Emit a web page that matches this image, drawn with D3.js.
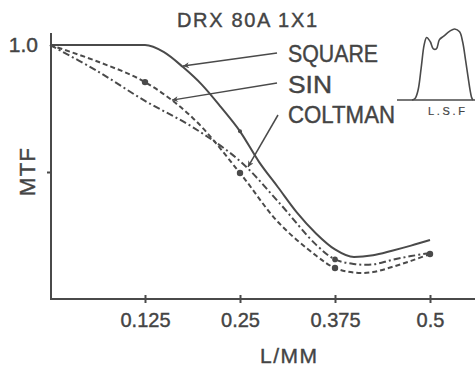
<!DOCTYPE html>
<html><head><meta charset="utf-8">
<script src="https://cdn.jsdelivr.net/npm/d3@7"></script>
<style>
html,body{margin:0;padding:0;background:#fff;}
svg{display:block;}
text{font-family:"Liberation Sans",Arial,sans-serif;fill:#444;stroke:#444;stroke-width:0.4px;}
</style></head><body>
<script>
// ---- data ----
const titleText = "DRX 80A 1X1";
const yLabel = "MTF";
const xLabel = "L/MM";
const xTicks = [0.125, 0.25, 0.375, 0.5];
const xTickLabels = ["0.125", "0.25", "0.375", "0.5"];
const yTicks = [0.5, 1.0];
const yTickLabels = ["", "1.0"];

const freqSquare = [0, 0.125, 0.15, 0.175, 0.2, 0.225, 0.25, 0.275, 0.3, 0.325, 0.35, 0.375, 0.4, 0.425, 0.45, 0.475, 0.5];
const mtfSquare  = [1.0, 1.0, 0.972, 0.913, 0.843, 0.755, 0.66, 0.54, 0.44, 0.34, 0.258, 0.195, 0.165, 0.172, 0.19, 0.21, 0.232];

const freqSin = [0, 0.0625, 0.125, 0.1875, 0.25, 0.3, 0.35, 0.375, 0.4, 0.425, 0.45, 0.475, 0.5];
const mtfSin  = [1.0, 0.935, 0.854, 0.714, 0.496, 0.303, 0.171, 0.122, 0.104, 0.106, 0.126, 0.15, 0.177];

const freqColtman = [0, 0.0625, 0.125, 0.1875, 0.25, 0.3, 0.35, 0.375, 0.4, 0.425, 0.45, 0.475, 0.5];
const mtfColtman  = [1.0, 0.897, 0.78, 0.677, 0.543, 0.384, 0.214, 0.156, 0.138, 0.136, 0.154, 0.169, 0.181];

const markSin = [0.125, 0.25, 0.375, 0.5];
const markSquare = [0.25];
const markColtman = [0.375];

const legendNames = ["SQUARE", "SIN", "COLTMAN"];
const legendTipFreq = [0.175, 0.1605, 0.2605];
const legendTipMtf  = [0.917, 0.783, 0.52];

// line spread function inset (relative position, relative amplitude)
const lsfPos = [0, 0.05, 0.1, 0.15, 0.2, 0.24, 0.3, 0.35, 0.4, 0.45, 0.52, 0.62, 0.7, 0.78, 0.83, 0.88, 0.92, 0.95, 0.98, 1.0];
const lsfAmp = [0, 0.02, 0.14, 0.45, 0.78, 0.88, 0.82, 0.72, 0.72, 0.85, 0.9, 0.97, 1.0, 0.96, 0.82, 0.55, 0.32, 0.15, 0.03, 0];
const lsfLabel = "L.S.F";

// ---- layout ----
const W = 475, H = 368;
const ink = "#4a4a4a";
const svg = d3.select("body").append("svg").attr("width", W).attr("height", H);

const x = d3.scaleLinear().domain([0, 0.5]).range([50, 430]);
const y = d3.scaleLinear().domain([0, 1]).range([299, 45]);

// axes
svg.append("line").attr("x1", x(0)).attr("x2", W).attr("y1", y(0)).attr("y2", y(0))
  .attr("stroke", ink).attr("stroke-width", 2);
svg.append("line").attr("x1", x(0) + 1).attr("x2", x(0) + 1).attr("y1", 33).attr("y2", y(0) + 1)
  .attr("stroke", ink).attr("stroke-width", 2);

const xAxis = d3.axisBottom(x).tickValues(xTicks).tickSize(4).tickFormat((d, i) => xTickLabels[i]);
const gx = svg.append("g").attr("transform", `translate(0,${y(0)})`).call(xAxis);
gx.select(".domain").remove();
gx.selectAll(".tick line").attr("y1", -4).attr("y2", 4).attr("stroke", ink).attr("stroke-width", 2);
gx.selectAll(".tick text").attr("y", 28).attr("dy", 0).attr("font-size", 20)
  .style("font-family", "Liberation Sans, Arial, sans-serif").attr("fill", "#444");

const yAxis = d3.axisLeft(y).tickValues(yTicks).tickSize(4).tickFormat((d, i) => yTickLabels[i]);
const gy = svg.append("g").attr("transform", `translate(${x(0) + 1},0)`).call(yAxis);
gy.select(".domain").remove();
gy.selectAll(".tick line").attr("stroke", ink).attr("stroke-width", 2)
  .attr("x2", (d) => d === 1 ? 0 : -4);
gy.selectAll(".tick text").attr("x", -13).attr("dy", "0.3em").attr("font-size", 21)
  .style("font-family", "Liberation Sans, Arial, sans-serif").attr("fill", "#444");

// axis titles
svg.append("text").attr("x", 177).attr("y", 27).attr("font-size", 20)
  .attr("textLength", 140).attr("lengthAdjust", "spacing").text(titleText);
svg.append("text").attr("transform", "translate(35,196) rotate(-90)").attr("font-size", 22)
  .attr("textLength", 48).attr("lengthAdjust", "spacing").text(yLabel);
svg.append("text").attr("x", 260).attr("y", 363).attr("font-size", 21)
  .attr("textLength", 57).attr("lengthAdjust", "spacing").text(xLabel);

// curves
const line = d3.line().x(d => x(d[0])).y(d => y(d[1])).curve(d3.curveMonotoneX);
const smooth = d3.line().x(d => x(d[0])).y(d => y(d[1])).curve(d3.curveCatmullRom.alpha(0.5));
const zip = (a, b) => a.map((v, i) => [v, b[i]]);

svg.append("path").datum(zip(freqSquare, mtfSquare)).attr("d", line)
  .attr("fill", "none").attr("stroke", ink).attr("stroke-width", 2);
svg.append("path").datum(zip(freqSin, mtfSin)).attr("d", smooth)
  .attr("fill", "none").attr("stroke", ink).attr("stroke-width", 2).attr("stroke-dasharray", "5,3");
svg.append("path").datum(zip(freqColtman, mtfColtman)).attr("d", smooth)
  .attr("fill", "none").attr("stroke", ink).attr("stroke-width", 2).attr("stroke-dasharray", "7,3,2,3");

// markers
const valAt = (fa, ma, f) => ma[fa.indexOf(f)];
svg.selectAll(".msin").data(markSin).enter().append("circle")
  .attr("cx", d => x(d)).attr("cy", d => y(valAt(freqSin, mtfSin, d))).attr("r", 3.2).attr("fill", ink);
svg.selectAll(".msq").data(markSquare).enter().append("circle")
  .attr("cx", d => x(d)).attr("cy", d => y(valAt(freqSquare, mtfSquare, d))).attr("r", 2).attr("fill", ink);
svg.selectAll(".mco").data(markColtman).enter().append("circle")
  .attr("cx", d => x(d)).attr("cy", d => y(valAt(freqColtman, mtfColtman, d))).attr("r", 2.8).attr("fill", ink);

// legend labels with pointer arrows
const defs = svg.append("defs");
defs.append("marker").attr("id", "ah").attr("viewBox", "0 0 10 10").attr("refX", 10).attr("refY", 5)
  .attr("markerWidth", 9).attr("markerHeight", 6).attr("markerUnits", "userSpaceOnUse").attr("orient", "auto")
  .append("path").attr("d", "M0,0 L10,5 L0,10 L3,5 Z").attr("fill", ink);

const legY = [62, 93, 123];
const legLen = [90, 44, 107];
const legStart = [[277, 53], [277, 83], [278, 115]];
legendNames.forEach((name, i) => {
  svg.append("text").attr("x", 288).attr("y", legY[i]).attr("font-size", 23)
    .attr("textLength", legLen[i]).attr("lengthAdjust", "spacingAndGlyphs").text(name);
  svg.append("line").attr("x1", legStart[i][0]).attr("y1", legStart[i][1])
    .attr("x2", x(legendTipFreq[i])).attr("y2", y(legendTipMtf[i]))
    .attr("stroke", ink).attr("stroke-width", 1.5).attr("marker-end", "url(#ah)");
});

// LSF inset
const lx = d3.scaleLinear().domain([0, 1]).range([412, 473]);
const ly = d3.scaleLinear().domain([0, 1]).range([100, 29]);
svg.append("line").attr("x1", 397).attr("x2", W).attr("y1", ly(0)).attr("y2", ly(0))
  .attr("stroke", ink).attr("stroke-width", 1.5);
svg.append("path").datum(zip(lsfPos, lsfAmp))
  .attr("d", d3.line().x(d => lx(d[0])).y(d => ly(d[1])).curve(d3.curveCatmullRom))
  .attr("fill", "none").attr("stroke", ink).attr("stroke-width", 1.6);
svg.append("text").attr("x", 428).attr("y", 115).attr("font-size", 11).style("stroke-width", "0.2px")
  .attr("textLength", 37).attr("lengthAdjust", "spacing").text(lsfLabel);
</script>
</body></html>
